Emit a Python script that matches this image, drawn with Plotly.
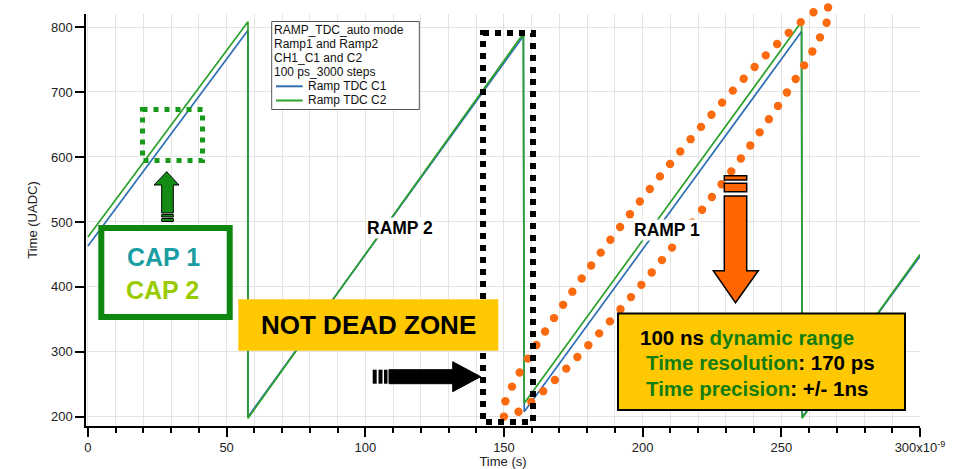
import numpy as np
import plotly.graph_objects as go

# ---- measured ramps: time (ns) and ADC code for the two TDC capacitors ----
t_ns = [0.0, 57.7, 57.7, 157.0, 157.3, 257.3, 257.5, 300.0]
ramp_c1 = [463, 795, 200, 786, 208, 793, 200, 447]
ramp_c2 = [477, 808, 198, 790, 221, 808, 198, 450]
series_names = ["Ramp TDC C1", "Ramp TDC C2"]
series_colors = ["#2f6fb3", "#2ba02b"]

x_ticks = [0, 50, 100, 150, 200, 250, 300]
x_tick_text = ["0", "50", "100", "150", "200", "250", "300x10<sup>-9</sup>"]
y_ticks = [200, 300, 400, 500, 600, 700, 800]

legend_header = ["RAMP_TDC_auto mode", "Ramp1 and Ramp2", "CH1_C1 and C2", "100 ps_3000 steps"]

# ---- page geometry ----
W, H = 954, 469
ML, MR, MT, MB = 86, 34, 14, 43
X_RANGE = [-0.7, 300]
Y_RANGE = [186, 820]
PW = W - ML - MR
PH = H - MT - MB


def paper_x(px):
    return (px - ML) / PW


def paper_y(py):
    return (H - MB - py) / PH


def poly(points):
    return "M " + " L ".join(f"{paper_x(x):.5f},{paper_y(y):.5f}" for x, y in points) + " Z"


FONT = "Arial, Liberation Sans, sans-serif"
GOLD = "#ffc800"
DARK_GREEN = "#137d13"
ORANGE = "#fb6a0e"

fig = go.Figure()

for name, values, color in zip(series_names, [ramp_c1, ramp_c2], series_colors):
    fig.add_trace(go.Scatter(x=t_ns, y=values, mode="lines", name=name,
                             line=dict(color=color, width=1.7), showlegend=False,
                             hoverinfo="skip"))

shapes = []
P = dict(xref="paper", yref="paper", layer="above")

# dotted orange ellipse around the overlapping ramp (round dots drawn as small circles)
cx, cy, a, b = 666.0, 212.0, 261.0, 27.0
ux, uy = 324 / 521.8, -409 / 521.8
nx, ny = -uy, ux
th = np.linspace(0, 2 * np.pi, 4000)
ex = cx + a * np.cos(th) * ux + b * np.sin(th) * nx
ey = cy + a * np.cos(th) * uy + b * np.sin(th) * ny
arc = np.concatenate([[0], np.cumsum(np.hypot(np.diff(ex), np.diff(ey)))])
n_dots = 66
s = np.linspace(0, arc[-1], n_dots, endpoint=False)
r_dot = 4.2
for dx, dy in zip(np.interp(s, arc, ex), np.interp(s, arc, ey)):
    shapes.append(dict(type="circle", x0=paper_x(dx - r_dot), x1=paper_x(dx + r_dot),
                       y0=paper_y(dy + r_dot), y1=paper_y(dy - r_dot),
                       line=dict(width=0), fillcolor=ORANGE, **P))

# legend box with line samples
LEG_Y = [29.5 + 14.2 * i for i in range(6)]
shapes.append(dict(type="rect", x0=paper_x(271.7), x1=paper_x(419.3), y0=paper_y(21.5), y1=paper_y(109.5),
                   line=dict(color="#555555", width=1), fillcolor="white", **P))
for yy, color in zip(LEG_Y[4:], series_colors):
    shapes.append(dict(type="line", x0=paper_x(276), x1=paper_x(302.7), y0=paper_y(yy), y1=paper_y(yy),
                       line=dict(color=color, width=2), **P))

# dotted green focus box
shapes.append(dict(type="rect", x0=paper_x(142.5), x1=paper_x(202.5), y0=paper_y(109.5), y1=paper_y(160.5),
                   line=dict(color="#17991a", width=5, dash="5px,6px"), **P))
# dotted black window around the reset
shapes.append(dict(type="rect", x0=paper_x(483), x1=paper_x(533), y0=paper_y(33), y1=paper_y(422),
                   line=dict(color="black", width=6, dash="6px,6px"), **P))

# CAP box
shapes.append(dict(type="rect", x0=paper_x(101.3), x1=paper_x(229.7), y0=paper_y(228), y1=paper_y(317),
                   line=dict(color="#0f870f", width=6), fillcolor="white", **P))

# green up arrow
shapes.append(dict(type="path", path=poly([(166.7, 171.7), (179, 185), (173.3, 185), (173.3, 213),
                                             (161.7, 213), (161.7, 185), (154, 185)]),
                   line=dict(color="black", width=1), fillcolor="#148c14", **P))
for y0, y1 in [(214.5, 217), (218.5, 221.5)]:
    shapes.append(dict(type="rect", x0=paper_x(161.7), x1=paper_x(173.3), y0=paper_y(y0), y1=paper_y(y1),
                       line=dict(color="black", width=1), fillcolor="#148c14", **P))

# NOT DEAD ZONE banner
shapes.append(dict(type="rect", x0=paper_x(238.3), x1=paper_x(498.3), y0=paper_y(299.3), y1=paper_y(350.7),
                   line=dict(width=0), fillcolor=GOLD, **P))

# black right arrow
shapes.append(dict(type="path", path=poly([(480.7, 376.7), (452.7, 391.7), (452.7, 383.7), (389, 383.7),
                                             (389, 369.7), (452.7, 369.7), (452.7, 361.7)]),
                   line=dict(color="black", width=1), fillcolor="black", **P))
for x0, x1 in [(372.7, 376.7), (378.5, 382.5), (384, 387.5)]:
    shapes.append(dict(type="rect", x0=paper_x(x0), x1=paper_x(x1), y0=paper_y(369.7), y1=paper_y(383.7),
                       line=dict(width=0), fillcolor="black", **P))

# orange down arrow
shapes.append(dict(type="path", path=poly([(735.5, 302.7), (758.3, 270.7), (746.7, 270.7), (746.7, 196),
                                             (724.3, 196), (724.3, 270.7), (713.3, 270.7)]),
                   line=dict(color="black", width=1.5), fillcolor="#ff6600", **P))
for y0, y1 in [(175.7, 180), (183.3, 191.7)]:
    shapes.append(dict(type="rect", x0=paper_x(724.3), x1=paper_x(746.7), y0=paper_y(y0), y1=paper_y(y1),
                       line=dict(color="black", width=1.5), fillcolor="#ff6600", **P))

# info box
shapes.append(dict(type="rect", x0=paper_x(618), x1=paper_x(905), y0=paper_y(313.5), y1=paper_y(410),
                   line=dict(color="black", width=2), fillcolor=GOLD, **P))

annotations = []


def text(px, py, s, size, color="black", xanchor="center", bg=None, bold=False):
    annotations.append(dict(x=paper_x(px), y=paper_y(py), xref="paper", yref="paper", text=s,
                            showarrow=False, xanchor=xanchor, yanchor="middle",
                            font=dict(family=FONT, size=size, color=color,
                                      weight="bold" if bold else "normal"),
                            bgcolor=bg, borderpad=0))


for line, yy in zip(legend_header, LEG_Y[:4]):
    text(273.3, yy, line, 12, "#111111", xanchor="left")
for name, yy in zip(series_names, LEG_Y[4:]):
    text(306.7, yy, name, 12, "#111111", xanchor="left")

text(163, 257, "CAP 1", 25, "#1b9ea3", bold=True)
text(162, 290, "CAP 2", 25, "#9acb00", bold=True)
text(368.3, 325, "NOT DEAD ZONE", 26, "black", bold=True)
text(400, 228, "RAMP 2", 17.5, "black", bg="white", bold=True)
text(666.7, 230, "RAMP 1", 17.5, "black", bg="white", bold=True)

G = DARK_GREEN
text(639.3, 337.3, f"100 ns<span style='color:{G}'> dynamic range</span>", 20.5, "black", xanchor="left", bold=True)
text(645, 362.3, f"<span style='color:{G}'>Time resolution</span>: 170 ps", 20.5, "black", xanchor="left", bold=True)
text(645, 388.3, f"<span style='color:{G}'>Time precision</span>: +/- 1ns", 20.5, "black", xanchor="left", bold=True)

GRID = "#e4e4e4"
fig.update_layout(
    width=W, height=H,
    margin=dict(l=ML, r=MR, t=MT, b=MB, pad=0),
    paper_bgcolor="white", plot_bgcolor="white",
    font=dict(family=FONT, size=13, color="#222222"),
    showlegend=False,
    shapes=shapes,
    annotations=annotations,
    xaxis=dict(range=X_RANGE, tickvals=x_ticks, ticktext=x_tick_text,
               showline=True, linecolor="black", linewidth=1.5,
               ticks="outside", ticklen=9, tickwidth=1.5, tickcolor="black",
               showgrid=True, gridcolor=GRID, gridwidth=1, zeroline=False,
               minor=dict(dtick=10, tick0=0, ticks="outside", ticklen=5, tickwidth=1.5,
                          tickcolor="black", showgrid=True, gridcolor=GRID, gridwidth=1),
               title=dict(text="Time (s)", font=dict(size=13, color="#222222"), standoff=2),
               tickfont=dict(size=13, color="#222222"), automargin=False),
    yaxis=dict(range=Y_RANGE, tickvals=y_ticks,
               showline=True, linecolor="black", linewidth=1.5,
               ticks="outside", ticklen=9, tickwidth=1.5, tickcolor="black",
               showgrid=True, gridcolor=GRID, gridwidth=1, zeroline=False,
               title=dict(text="Time (UADC)", font=dict(size=13, color="#222222"), standoff=10),
               tickfont=dict(size=13, color="#222222"), automargin=False),
)

fig.write_html("out.html")
